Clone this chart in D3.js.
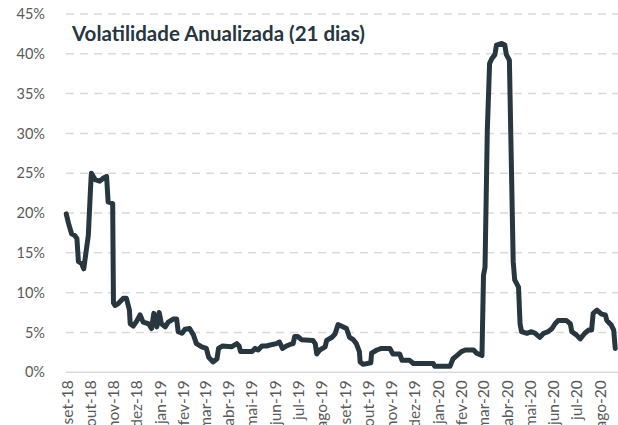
<!DOCTYPE html>
<html>
<head>
<meta charset="utf-8">
<script src="https://cdn.jsdelivr.net/npm/d3@7"></script>
<style>
    body { margin: 0; background: #ffffff; }
    svg { display: block; font-family: Lato, "Open Sans", sans-serif; }
</style>
</head>
<body>
<svg id="drawing_region"></svg>
<script>
// daily series at the turning points
var dates = [
    "2018-08-31","2018-09-03","2018-09-07","2018-09-11","2018-09-14","2018-09-16","2018-09-20","2018-09-23",
    "2018-09-27","2018-09-29","2018-10-02","2018-10-03","2018-10-08","2018-10-14","2018-10-19","2018-10-23",
    "2018-10-25","2018-10-31","2018-11-01","2018-11-03","2018-11-07","2018-11-14","2018-11-18","2018-11-22",
    "2018-11-23","2018-11-27","2018-12-02","2018-12-06","2018-12-10","2018-12-17","2018-12-21","2018-12-24",
    "2018-12-28","2018-12-31","2019-01-03","2019-01-08","2019-01-12","2019-01-19","2019-01-23","2019-01-25",
    "2019-01-30","2019-02-03","2019-02-09","2019-02-14","2019-02-18","2019-02-25","2019-03-03","2019-03-06",
    "2019-03-12","2019-03-17","2019-03-19","2019-03-24","2019-04-05","2019-04-12","2019-04-15","2019-04-17",
    "2019-05-02","2019-05-06","2019-05-10","2019-05-15","2019-05-21","2019-05-29","2019-06-03","2019-06-07",
    "2019-06-11","2019-06-16","2019-06-21","2019-06-25","2019-06-27","2019-07-01","2019-07-06","2019-07-21",
    "2019-07-24","2019-07-26","2019-07-30","2019-08-06","2019-08-08","2019-08-15","2019-08-19","2019-08-23",
    "2019-08-30","2019-09-03","2019-09-07","2019-09-12","2019-09-16","2019-09-20","2019-09-21","2019-09-25",
    "2019-10-05","2019-10-06","2019-10-13","2019-10-19","2019-10-30","2019-11-03","2019-11-12","2019-11-15",
    "2019-11-25","2019-11-30","2019-12-26","2019-12-28","2020-01-17","2020-01-21","2020-01-26","2020-02-01",
    "2020-02-06","2020-02-17","2020-02-21","2020-02-28","2020-03-01","2020-03-03","2020-03-06","2020-03-09",
    "2020-03-12","2020-03-16","2020-03-18","2020-03-25","2020-03-29","2020-03-31","2020-04-04","2020-04-09",
    "2020-04-11","2020-04-16","2020-04-18","2020-04-20","2020-04-27","2020-05-03","2020-05-08","2020-05-14",
    "2020-05-19","2020-05-25","2020-05-30","2020-06-03","2020-06-07","2020-06-18","2020-06-23","2020-06-25",
    "2020-07-01","2020-07-06","2020-07-12","2020-07-17","2020-07-21","2020-07-23","2020-07-28","2020-08-03",
    "2020-08-08","2020-08-10","2020-08-16","2020-08-19","2020-08-21"
];

var volatility = [
    19.9, 18.7, 17.4, 17.2, 16.8, 13.9, 13.7, 13.0,
    15.8, 17.2, 23.3, 25.0, 24.2, 24.0, 24.4, 24.6,
    21.4, 21.2, 8.7, 8.4, 8.6, 9.3, 9.3, 7.8,
    6.1, 5.8, 6.5, 7.2, 6.3, 6.1, 5.5, 7.4,
    5.7, 7.5, 6.1, 5.7, 6.3, 6.7, 6.7, 5.1,
    4.9, 5.4, 5.5, 4.7, 3.6, 3.2, 3.0, 1.9,
    1.3, 1.7, 3.0, 3.3, 3.2, 3.6, 3.3, 2.6,
    2.6, 3.0, 2.8, 3.3, 3.3, 3.5, 3.6, 3.8,
    3.0, 3.3, 3.5, 3.6, 4.5, 4.5, 4.1, 4.0,
    3.6, 2.3, 2.8, 3.2, 4.0, 4.4, 4.8, 6.0,
    5.7, 5.5, 4.4, 4.1, 3.6, 2.6, 1.3, 1.0,
    1.2, 2.4, 2.8, 3.0, 3.0, 2.3, 2.3, 1.5,
    1.5, 1.1, 1.1, 0.75, 0.75, 1.7, 2.1, 2.6,
    2.8, 2.8, 2.4, 2.1, 12.2, 13.2, 30.4, 38.8,
    39.4, 39.9, 41.1, 41.3, 41.1, 39.9, 39.2, 13.9,
    11.6, 10.7, 6.1, 5.1, 4.9, 5.1, 4.9, 4.4,
    4.9, 5.1, 5.5, 6.1, 6.5, 6.5, 6.1, 5.1,
    4.7, 4.2, 4.9, 5.3, 5.3, 7.4, 7.8, 7.3,
    7.2, 6.5, 5.9, 5.3, 3.0
];

var month_labels = [
    "set-18","out-18","nov-18","dez-18","jan-19","fev-19","mar-19","abr-19",
    "mai-19","jun-19","jul-19","ago-19","set-19","out-19","nov-19","dez-19",
    "jan-20","fev-20","mar-20","abr-20","mai-20","jun-20","jul-20","ago-20"
];

var y_ticks = [0, 5, 10, 15, 20, 25, 30, 35, 40, 45];

var title_text = "Volatilidade Anualizada (21 dias)";

class LineChart {
    constructor( config, data ) {
        this.config = {
            parent: config.parent,
            width: config.width || 256,
            height: config.height || 256,
            margin: config.margin || {top:10, right:10, bottom:50, left:60}
        }
        this.data = data;
        this.init();
    }

    init() {
        let self = this;

        self.svg = d3.select( self.config.parent )
            .attr('width', self.config.width)
            .attr('height', self.config.height);

        self.chart = self.svg.append('g')
            .attr('transform', `translate(${self.config.margin.left}, ${self.config.margin.top})`);

        self.inner_width = self.config.width - self.config.margin.left - self.config.margin.right;
        self.inner_height = self.config.height - self.config.margin.top - self.config.margin.bottom;

        self.parse = d3.timeParse('%Y-%m-%d');

        // month ticks sit at the first day of each month
        self.tick_dates = d3.timeMonth.range( self.parse('2018-09-01'), self.parse('2020-08-02') );

        self.xscale = d3.scaleTime()
            .domain( [self.tick_dates[0], self.tick_dates[self.tick_dates.length - 1]] )
            .range( [0, 533] );

        self.yscale = d3.scaleLinear()
            .domain( [0, 45] )
            .range( [self.inner_height, 0] );

        self.grid_group = self.chart.append('g');
        self.xaxis_group = self.chart.append('g')
            .attr('transform', `translate(0, ${self.inner_height})`);
        self.yaxis_group = self.chart.append('g');
        self.line_group = self.chart.append('g');

        self.svg.append('text')
            .attr('id', 'title')
            .attr('x', 72)
            .attr('y', 41)
            .attr('fill', '#27363f')
            .style('font-size', '19px')
            .style('font-weight', 'bold')
            .text( title_text );
    }

    update() {
        let self = this;
        self.points = self.data.dates.map( (d, i) => ({ date: self.parse(d), value: self.data.values[i] }) );
        self.render();
    }

    render() {
        let self = this;

        // dashed grid lines (0% is a solid axis line)
        self.grid_group.selectAll('line')
            .data( y_ticks )
            .join('line')
            .attr('x1', -1)
            .attr('x2', self.inner_width)
            .attr('y1', d => self.yscale(d))
            .attr('y2', d => self.yscale(d))
            .attr('stroke', '#d9d9d9')
            .attr('stroke-width', 1.5)
            .attr('stroke-dasharray', d => d == 0 ? null : '8,6');

        self.yaxis = d3.axisLeft( self.yscale )
            .tickValues( y_ticks )
            .tickFormat( d => d + '%' )
            .tickSize(0)
            .tickPadding(22);

        self.yaxis_group.call( self.yaxis );
        self.yaxis_group.select('.domain').remove();
        self.yaxis_group.selectAll('text')
            .attr('fill', '#595959')
            .style('font-size', '14.5px')
            .style('font-family', 'Lato, sans-serif');

        self.xaxis = d3.axisBottom( self.xscale )
            .tickValues( self.tick_dates )
            .tickFormat( (d, i) => month_labels[i] )
            .tickSize(0);

        self.xaxis_group.call( self.xaxis );
        self.xaxis_group.select('.domain').remove();
        self.xaxis_group.selectAll('text')
            .attr('fill', '#595959')
            .style('font-size', '15.5px')
            .style('font-family', 'Lato, sans-serif')
            .attr('text-anchor', 'end')
            .attr('transform', 'translate(0, 8) rotate(-90)')
            .attr('x', 0)
            .attr('y', 0)
            .attr('dy', '0.35em');

        self.line = d3.line()
            .x( d => self.xscale(d.date) )
            .y( d => self.yscale(d.value) );

        self.line_group.selectAll('path')
            .data( [self.points] )
            .join('path')
            .attr('d', self.line)
            .attr('fill', 'none')
            .attr('stroke', '#27363f')
            .attr('stroke-width', 5)
            .attr('stroke-linejoin', 'round')
            .attr('stroke-linecap', 'round');
    }
}

var config = {
    parent: '#drawing_region',
    width: 618,
    height: 425,
    margin: {top:14, right:0, bottom:52.7, left:67}
};

var line_chart = new LineChart( config, { dates: dates, values: volatility } );
line_chart.update();

// squeeze the title to the width it has in the picture
var title = d3.select('#title');
var w = title.node().getComputedTextLength();
title.style('font-size', (19 * 293 / w) + 'px');
</script>
</body>
</html>
